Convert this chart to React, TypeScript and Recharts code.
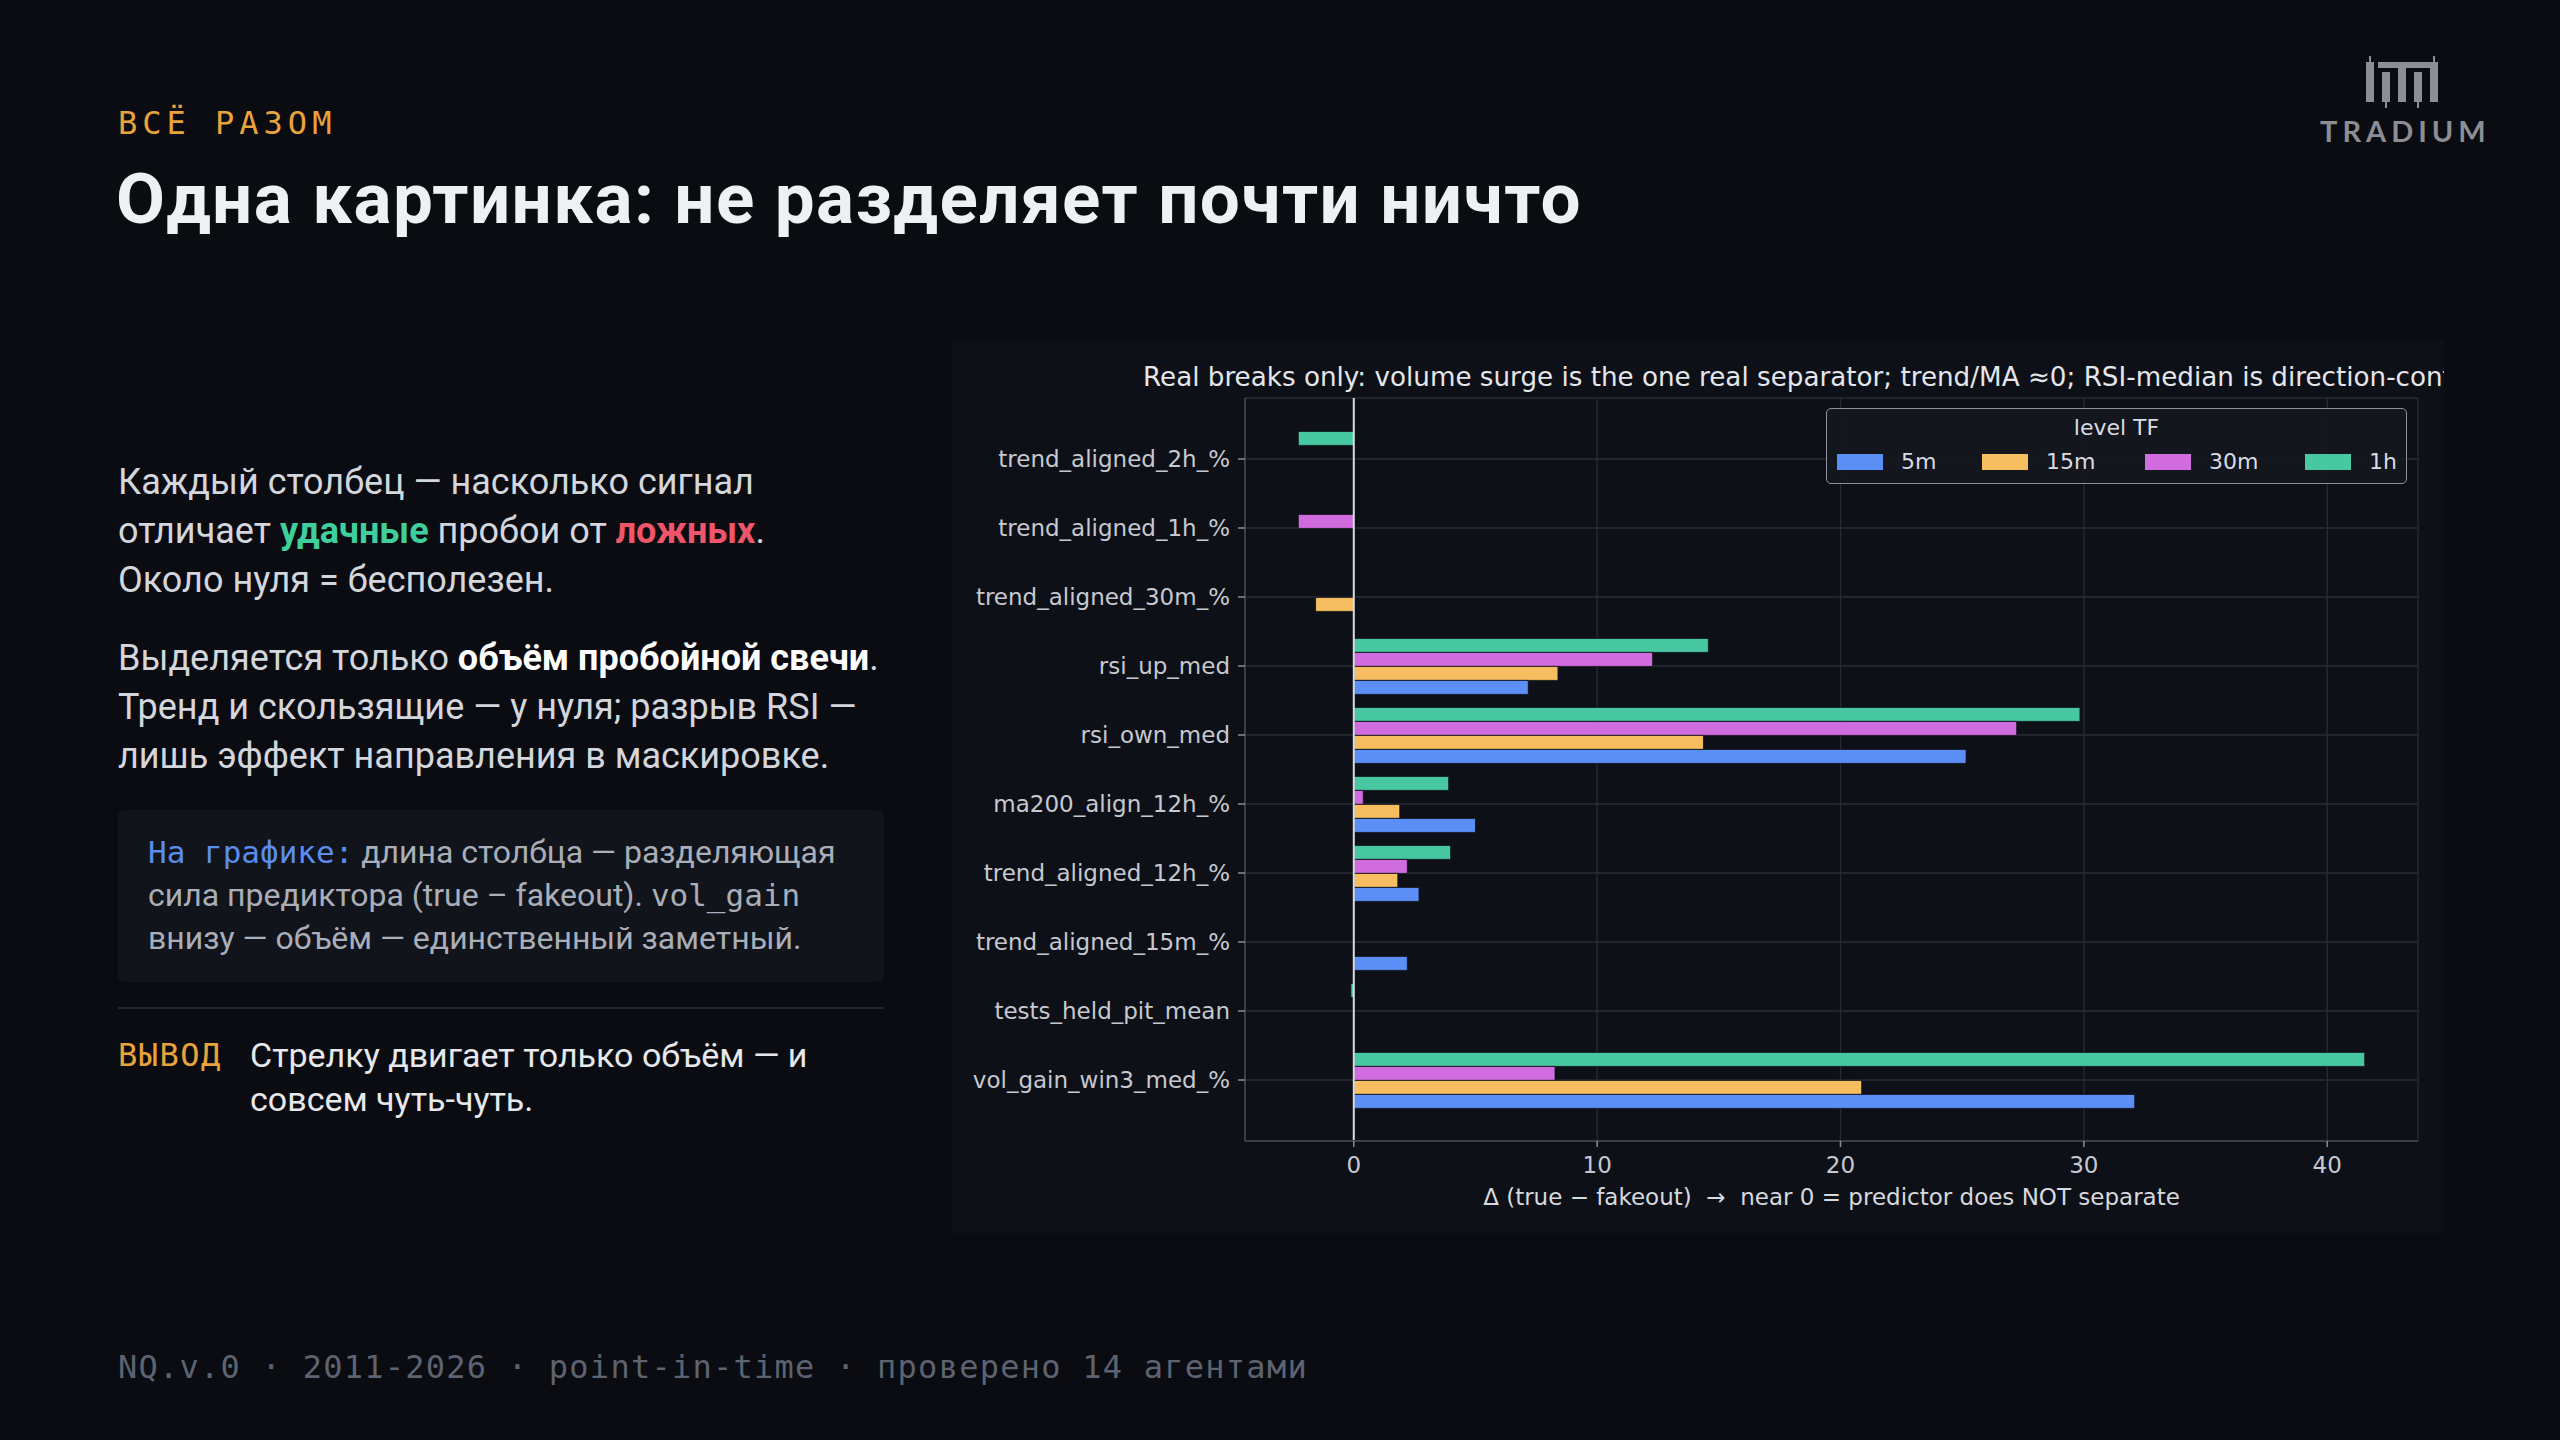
import React from "react";
import { BarChart, Bar, XAxis, YAxis, CartesianGrid, ReferenceLine, Legend } from "recharts";

// ---------- data ----------
const FEATURES = [
  "trend_aligned_2h_%",
  "trend_aligned_1h_%",
  "trend_aligned_30m_%",
  "rsi_up_med",
  "rsi_own_med",
  "ma200_align_12h_%",
  "trend_aligned_12h_%",
  "trend_aligned_15m_%",
  "tests_held_pit_mean",
  "vol_gain_win3_med_%",
];
const TF_KEYS = ["m5", "m15", "m30", "h1"];
const TF_LABELS = ["5m", "15m", "30m", "1h"];
const TF_COLORS = ["#5b8ff6", "#f6be60", "#d06cde", "#48c8a0"];

const VAL_5M = [null, null, null, 7.17, 25.16, 5.0, 2.68, 2.2, null, 32.09];
const VAL_15M = [null, null, -1.57, 8.39, 14.37, 1.89, 1.81, null, null, 20.87];
const VAL_30M = [null, -2.28, null, 12.28, 27.24, 0.39, 2.2, null, null, 8.27];
const VAL_1H = [-2.28, null, null, 14.57, 29.84, 3.9, 3.98, null, -0.12, 41.54];

const X_TICKS = [0, 10, 20, 30, 40];
const X_DOMAIN: [number, number] = [-4.47, 43.73];

const CHART_TITLE =
  "Real breaks only: volume surge is the one real separator; trend/MA \u22480; RSI-median is direction-confounded";
const X_LABEL = "\u0394 (true \u2212 fakeout)\u00a0\u00a0\u2192\u00a0\u00a0near 0 = predictor does NOT separate";
const LEGEND_TITLE = "level TF";

const SERIES = [VAL_5M, VAL_15M, VAL_30M, VAL_1H];
const data = FEATURES.map((f, i) => {
  const row: any = { feature: f };
  TF_KEYS.forEach((k, j) => (row[k] = SERIES[j][i]));
  return row;
});

// ---------- styles ----------
const PAGE_BG = "#0a0c11";
const PANEL_BG = "#0e1017";
const SANS = "Roboto, 'Noto Sans', sans-serif";
const MONO = "'DejaVu Sans Mono', 'Liberation Mono', monospace";
const CHART_FONT = "'DejaVu Sans', sans-serif";
const GRID = "#282c35";
const SPINE = "#3a3e48";
const TICK_TEXT = "#c6c9d0";

const LEGEND_ITEM_LEFT = [10, 155, 318, 478];

const LegendBox = () => (
  <div
    style={{
      boxSizing: "border-box",
      width: 581,
      height: 76,
      border: "1.5px solid #8e929a",
      borderRadius: 5,
      background: "rgba(20,23,30,0.92)",
      fontFamily: CHART_FONT,
      color: "#d9dce2",
      fontSize: 22,
      position: "relative",
    }}
  >
    <div style={{ position: "absolute", top: 6, left: 0, right: 0, textAlign: "center", lineHeight: "26px" }}>
      {LEGEND_TITLE}
    </div>
    {TF_LABELS.map((lab, i) => (
      <div key={lab} style={{ position: "absolute", top: 40, left: LEGEND_ITEM_LEFT[i], height: 26, display: "flex", alignItems: "center" }}>
        <div style={{ width: 46, height: 16, background: TF_COLORS[i] }} />
        <div style={{ marginLeft: 18, lineHeight: "26px" }}>{lab}</div>
      </div>
    ))}
  </div>
);

const ChartPanel = () => (
  <div
    style={{
      position: "absolute",
      left: 952,
      top: 340,
      width: 1492,
      height: 893,
      background: PANEL_BG,
      overflow: "hidden",
    }}
  >
    <div
      style={{
        position: "absolute",
        left: 191,
        top: 24,
        whiteSpace: "nowrap",
        fontFamily: CHART_FONT,
        fontSize: 26.2,
        lineHeight: "26px",
        color: "#e4e6ea",
      }}
    >
      {CHART_TITLE}
    </div>
    <div style={{ position: "absolute", left: 0, top: 0 }}>
      <BarChart
        layout="vertical"
        width={1492}
        height={893}
        data={data}
        margin={{ top: 58, right: 26, bottom: 0, left: 0 }}
        barCategoryGap="10%"
        barGap={0}
      >
        <XAxis
          type="number"
          domain={X_DOMAIN}
          ticks={X_TICKS}
          allowDataOverflow
          height={92}
          tickSize={6}
          tickMargin={10}
          axisLine={{ stroke: SPINE, strokeWidth: 2 }}
          tickLine={{ stroke: "#8a8e96", strokeWidth: 1.5 }}
          tick={{ fill: TICK_TEXT, fontSize: 23, fontFamily: CHART_FONT }}
          label={{ value: X_LABEL, position: "insideBottom", offset: 28, fill: "#d6d9de", fontSize: 23, fontFamily: CHART_FONT }}
        />
        <YAxis
          type="category"
          dataKey="feature"
          width={293}
          interval={0}
          tickSize={7}
          tickMargin={8}
          padding={{ top: 26.5, bottom: 26.5 }}
          axisLine={{ stroke: SPINE, strokeWidth: 2 }}
          tickLine={{ stroke: "#8a8e96", strokeWidth: 1.5 }}
          tick={{ fill: TICK_TEXT, fontSize: 23, fontFamily: CHART_FONT }}
        />
        <XAxis xAxisId="top" orientation="top" type="number" domain={X_DOMAIN} height={0} tick={false} tickLine={false} axisLine={{ stroke: SPINE, strokeWidth: 2 }} />
        <YAxis yAxisId="right" orientation="right" type="category" dataKey="feature" width={0} tick={false} tickLine={false} axisLine={{ stroke: SPINE, strokeWidth: 2 }} />
        {[3, 2, 1, 0].map((j) => (
          <Bar
            key={TF_KEYS[j]}
            dataKey={TF_KEYS[j]}
            name={TF_LABELS[j]}
            fill={TF_COLORS[j]}
            stroke={PANEL_BG}
            strokeWidth={0.8}
            isAnimationActive={false}
          />
        ))}
        <CartesianGrid stroke={GRID} strokeWidth={1.3} />
        <ReferenceLine x={0} stroke="#d8dbe0" strokeWidth={2} />
        <Legend
          layout="horizontal"
          verticalAlign="middle"
          align="center"
          wrapperStyle={{ position: "absolute", left: 874, top: 68, width: 581, height: 76 }}
          content={() => <LegendBox />}
        />
      </BarChart>
    </div>
  </div>
);

const Logo = () => (
  <div style={{ position: "absolute", left: 2310, top: 50, width: 200, height: 110 }}>
    <svg width={190} height={60} style={{ position: "absolute", left: 0, top: 0 }}>
      <g fill="#8b8e94">
        <rect x={56} y={12} width={8} height={40} />
        <rect x={59} y={6} width={2} height={8} />
        <rect x={72} y={22} width={8} height={30} />
        <rect x={75} y={52} width={2} height={6} />
        <rect x={68} y={12} width={56} height={6} />
        <rect x={88} y={12} width={8} height={40} />
        <rect x={104} y={22} width={8} height={30} />
        <rect x={107} y={52} width={2} height={6} />
        <rect x={120} y={12} width={8} height={40} />
        <rect x={123} y={6} width={2} height={8} />
      </g>
    </svg>
    <div
      style={{
        position: "absolute",
        left: 10,
        top: 66,
        fontFamily: "Lato, 'DejaVu Sans', sans-serif",
        fontSize: 29,
        lineHeight: "29px",
        letterSpacing: 5,
        fontWeight: 700,
        color: "#8b8e94",
        whiteSpace: "nowrap",
      }}
    >
      TRADIUM
    </div>
  </div>
);

const bodyLine: React.CSSProperties = { whiteSpace: "nowrap" };

export default function App() {
  return (
    <div
      style={{
        position: "absolute",
        left: 0,
        top: 0,
        width: 2560,
        height: 1440,
        background: PAGE_BG,
        overflow: "hidden",
        fontFamily: SANS,
      }}
    >
      <div
        style={{
          position: "absolute",
          left: 118,
          top: 107,
          fontFamily: MONO,
          fontSize: 32,
          lineHeight: "32px",
          letterSpacing: 5,
          color: "#e9a33c",
          whiteSpace: "nowrap",
        }}
      >
        ВСЁ РАЗОМ
      </div>
      <div
        style={{
          position: "absolute",
          left: 116,
          top: 163,
          fontSize: 71,
          lineHeight: "71px",
          letterSpacing: 1.4,
          fontWeight: 700,
          color: "#eef0f4",
          whiteSpace: "nowrap",
        }}
      >
        Одна картинка: не разделяет почти ничто
      </div>
      <Logo />

      <div style={{ position: "absolute", left: 118, top: 458, fontSize: 36, lineHeight: "49px", color: "#d3d6dc" }}>
        <div style={bodyLine}>Каждый столбец — насколько сигнал</div>
        <div style={bodyLine}>
          отличает <b style={{ color: "#3fcf9d" }}>удачные</b> пробои от <b style={{ color: "#f0566a" }}>ложных</b>.
        </div>
        <div style={bodyLine}>Около нуля = бесполезен.</div>
      </div>

      <div style={{ position: "absolute", left: 118, top: 634, fontSize: 36, lineHeight: "49px", color: "#d3d6dc" }}>
        <div style={bodyLine}>
          Выделяется только <b style={{ color: "#ffffff" }}>объём пробойной свечи</b>.
        </div>
        <div style={bodyLine}>Тренд и скользящие — у нуля; разрыв RSI —</div>
        <div style={bodyLine}>лишь эффект направления в маскировке.</div>
      </div>

      <div
        style={{
          position: "absolute",
          left: 118,
          top: 810,
          width: 766,
          height: 172,
          background: "#11141b",
          borderRadius: 6,
        }}
      />
      <div style={{ position: "absolute", left: 148, top: 831, fontSize: 32, lineHeight: "43px", color: "#a9aeb8" }}>
        <div style={bodyLine}>
          <span style={{ fontFamily: MONO, fontSize: 31, color: "#5b8def" }}>На графике:</span> длина столбца — разделяющая
        </div>
        <div style={bodyLine}>
          сила предиктора (true – fakeout). <span style={{ fontFamily: MONO, fontSize: 31 }}>vol_gain</span>
        </div>
        <div style={bodyLine}>внизу — объём — единственный заметный.</div>
      </div>

      <div style={{ position: "absolute", left: 118, top: 1007, width: 766, height: 2, background: "#232730" }} />

      <div
        style={{
          position: "absolute",
          left: 118,
          top: 1033,
          fontFamily: MONO,
          fontSize: 32,
          lineHeight: "44px",
          letterSpacing: 1.5,
          color: "#e9a33c",
        }}
      >
        ВЫВОД
      </div>
      <div style={{ position: "absolute", left: 250, top: 1033, fontSize: 34, lineHeight: "44px", color: "#e6e8ec" }}>
        <div style={bodyLine}>Стрелку двигает только объём — и</div>
        <div style={bodyLine}>совсем чуть-чуть.</div>
      </div>

      <div
        style={{
          position: "absolute",
          left: 118,
          top: 1351,
          fontFamily: MONO,
          fontSize: 32,
          lineHeight: "32px",
          letterSpacing: 1.25,
          color: "#5d6371",
          whiteSpace: "nowrap",
        }}
      >
        NQ.v.0 · 2011-2026 · point-in-time · проверено 14 агентами
      </div>

      <ChartPanel />
    </div>
  );
}
